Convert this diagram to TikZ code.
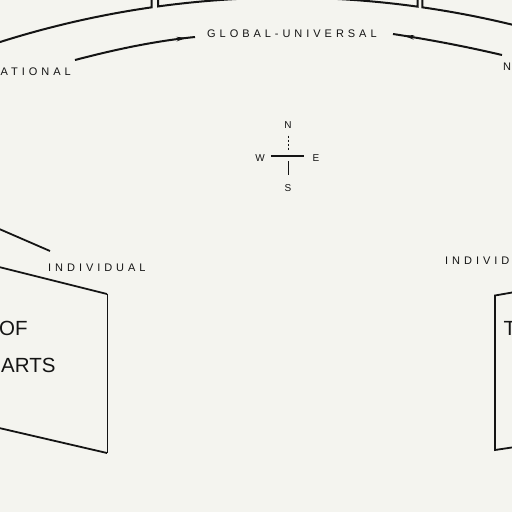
\documentclass[tikz,border=0pt]{standalone}
\usepackage{fontspec}
\setmainfont{Liberation Sans}
\newfontfamily\lblfont[LetterSpace=36]{Liberation Sans}
\usetikzlibrary{arrows.meta,decorations.markings,calc}
\definecolor{paper}{RGB}{244,244,239}
\definecolor{ink}{RGB}{20,20,20}
\begin{document}
\begin{tikzpicture}[x=1pt,y=-1pt,
  arcline/.style={draw=ink,line width=2pt},
  boxline/.style={draw=ink,line width=1.8pt},
  thinline/.style={draw=ink,line width=1pt},
  lbl/.style={font=\lblfont\fontsize{11}{13}\selectfont,text=ink,inner sep=0pt},
  big/.style={font=\fontsize{20.5}{24}\selectfont,text=ink,inner sep=0pt},
  compass/.style={font=\fontsize{10}{11}\selectfont,text=ink,inner sep=0pt},
  midarrow/.style={postaction={decorate},decoration={markings,
    mark=at position #1 with {\arrow{Stealth[length=10pt,width=4.5pt]}}}}]
\fill[paper] (0,0) rectangle (512,512);
\useasboundingbox (0,0) rectangle (512,512);
\clip (0,0) rectangle (512,512);

% outer arc with box bottoms
\coordinate (C) at (287,947.6);
\coordinate (a1) at ($(C)+(-107.9:950)$);
\coordinate (a2) at ($(C)+(-97.8:950)$);
\coordinate (a3) at ($(C)+(-81.8:950)$);
\draw[arcline] (a1) arc[start angle=-107.9,end angle=-98.2,radius=950] -- ++(0,-15);
\draw[arcline] ([yshift=15pt]a2) -- (a2) arc[start angle=-97.8,end angle=-82.1,radius=950] -- ++(0,-15);
\draw[arcline] ([yshift=15pt]a3) -- (a3) arc[start angle=-81.8,end angle=-76,radius=950];

% labels on the inner arc
\node[lbl,anchor=west] (glob) at (207,34) {GLOBAL-UNIVERSAL};
\node[lbl,anchor=west] (natl) at (0.5,72) {ATIONAL};
\node[lbl,anchor=west] (natr) at (503,67) {N};
\coordinate (g1) at (75,60);
\coordinate (g2) at (195,37);
\coordinate (g3) at (502,55);
\coordinate (g4) at (393,34);
\draw[arcline,midarrow=0.93] (g1) .. controls (115,49.5) and (155,41) .. (g2);
\draw[arcline,midarrow=0.9] (g3) .. controls (466,46.5) and (429,39.5) .. (g4);

% compass
\coordinate (cc) at (288,156);
\node[compass] (N) at (288,125) {N};
\node[compass] (W) at (260,158) {W};
\node[compass] (E) at (316,158) {E};
\node[compass] (S) at (288,188) {S};
\draw[ink,line width=2pt] ([xshift=6pt]W.east |- cc) -- ([xshift=-8pt]E.west |- cc);
\draw[ink,line width=0.9pt,dash pattern=on 2.5pt off 1.5pt] ([yshift=-7pt]N.south) -- ([yshift=6pt]cc);
\draw[ink,line width=0.9pt] ([yshift=-5pt]cc) -- ([yshift=9pt]S.north);

% lower left
\node[lbl,anchor=west] (indl) at (48,268) {INDIVIDUAL};
\draw[boxline] (-3,228) -- (50,251);
\draw[boxline] (-3,266.5) -- (107,294);
\draw[thinline] (107,294) -- (107,453);
\draw[boxline] (107,453) -- (-3,427.5);
\node[big,anchor=west] (of) at (-1,328) {OF};
\node[big,anchor=west] (arts) at (1,365) {ARTS};

% lower right
\node[lbl,anchor=west] (indr) at (445,261) {INDIVID};
\draw[boxline] (515,292) -- (495,295.5) -- (495,450) -- (515,447);
\node[big,anchor=west] (t) at (503.5,328) {T};
\end{tikzpicture}
\end{document}
